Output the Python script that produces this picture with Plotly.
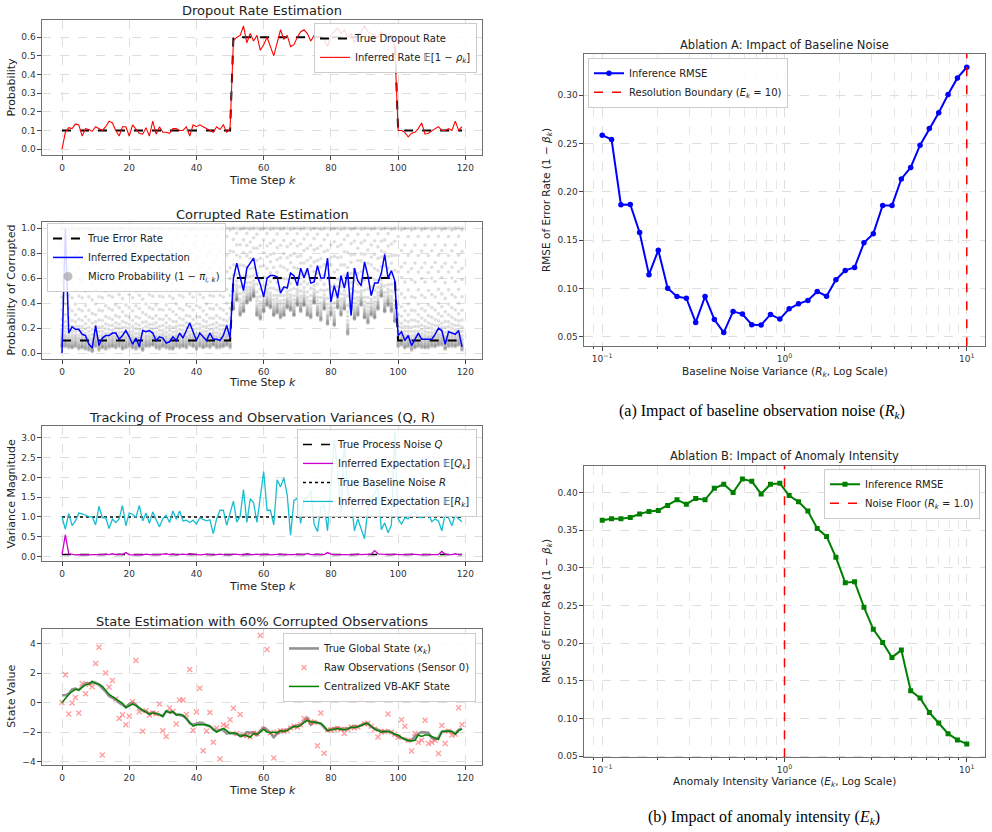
import plotly.graph_objects as go

W, H = 992, 832

# ---------------- data ----------------
k_steps = list(range(120))

dropout_true = [0.1] * 51 + [0.6] * 49 + [0.1] * 20
dropout_inferred = [
    0.0, 0.09, 0.115, 0.11, 0.135, 0.13, 0.07, 0.11, 0.105, 0.095,
    0.12, 0.11, 0.10, 0.12, 0.15, 0.14, 0.10, 0.07, 0.12, 0.12,
    0.07, 0.13, 0.11, 0.085, 0.08, 0.115, 0.07, 0.15, 0.08, 0.12,
    0.09, 0.09, 0.085, 0.11, 0.11, 0.10, 0.10, 0.12, 0.07, 0.13,
    0.12, 0.13, 0.12, 0.11, 0.10, 0.09, 0.12, 0.105, 0.13, 0.09,
    0.11, 0.58, 0.60, 0.61, 0.66, 0.57, 0.62, 0.58, 0.61, 0.53,
    0.56, 0.60, 0.55, 0.50, 0.57, 0.64, 0.59, 0.61, 0.55, 0.56,
    0.60, 0.63, 0.64, 0.62, 0.58, 0.61, 0.60, 0.60, 0.59, 0.55,
    0.61, 0.63, 0.65, 0.62, 0.64, 0.60, 0.62, 0.57, 0.61, 0.63,
    0.66, 0.63, 0.62, 0.61, 0.60, 0.63, 0.61, 0.60, 0.61, 0.55,
    0.10, 0.10, 0.09, 0.065, 0.085, 0.09, 0.11, 0.14, 0.08, 0.085,
    0.10, 0.11, 0.12, 0.10, 0.10, 0.11, 0.10, 0.15, 0.10, 0.12,
]

error_true = [0.1] * 51 + [0.6] * 49 + [0.1] * 20
error_inferred = [
    0.0, 1.0, 0.16, 0.21, 0.19, 0.19, 0.15, 0.14, 0.07, 0.04,
    0.22, 0.06, 0.12, 0.14, 0.14, 0.16, 0.16, 0.11, 0.14, 0.18,
    0.13, 0.07, 0.12, 0.05, 0.18, 0.17, 0.18, 0.16, 0.10, 0.13,
    0.12, 0.08, 0.09, 0.13, 0.10, 0.16, 0.12, 0.18, 0.24, 0.17,
    0.10, 0.16, 0.13, 0.10, 0.16, 0.11, 0.11, 0.10, 0.14, 0.22,
    0.12, 0.60, 0.72, 0.61, 0.50, 0.68, 0.72, 0.76, 0.62, 0.55,
    0.45, 0.60, 0.62, 0.62, 0.61, 0.48, 0.53, 0.52, 0.64, 0.62,
    0.54, 0.68, 0.60, 0.68, 0.56, 0.57, 0.70, 0.60, 0.60, 0.76,
    0.41, 0.54, 0.44, 0.62, 0.52, 0.65, 0.30, 0.68, 0.58, 0.54,
    0.73, 0.62, 0.46, 0.56, 0.56, 0.64, 0.79, 0.60, 0.66, 0.58,
    0.14, 0.17, 0.10, 0.14, 0.06, 0.11, 0.16, 0.11, 0.11, 0.11,
    0.11, 0.15, 0.20, 0.18, 0.07, 0.17, 0.16, 0.15, 0.18, 0.05,
]
# lowest value of each column of micro (per-sensor) probabilities
micro_floor = [
    0.05, 0.05, 0.04, 0.04, 0.05, 0.03, 0.04, 0.03, 0.02, 0.01,
    0.05, 0.02, 0.04, 0.03, 0.04, 0.05, 0.04, 0.05, 0.03, 0.04,
    0.05, 0.04, 0.03, 0.04, 0.02, 0.05, 0.05, 0.06, 0.04, 0.03,
    0.05, 0.04, 0.03, 0.03, 0.05, 0.04, 0.05, 0.04, 0.06, 0.05,
    0.03, 0.05, 0.04, 0.05, 0.04, 0.06, 0.04, 0.04, 0.05, 0.06,
    0.04, 0.35, 0.42, 0.30, 0.33, 0.40, 0.42, 0.45, 0.30, 0.27,
    0.33, 0.38, 0.36, 0.30, 0.32, 0.28, 0.30, 0.36, 0.34, 0.30,
    0.38, 0.33, 0.38, 0.30, 0.28, 0.40, 0.30, 0.26, 0.35, 0.23,
    0.30, 0.22, 0.36, 0.30, 0.35, 0.15, 0.35, 0.27, 0.30, 0.38,
    0.28, 0.24, 0.30, 0.28, 0.35, 0.45, 0.33, 0.38, 0.33, 0.25,
    0.05, 0.06, 0.04, 0.05, 0.02, 0.04, 0.05, 0.04, 0.04, 0.04,
    0.05, 0.05, 0.06, 0.06, 0.03, 0.05, 0.05, 0.05, 0.06, 0.02,
]
# relative positions of sensor probabilities between column floor and 1.0
micro_levels_a = [0, 0.005, 0.01, 0.015, 0.02, 0.03, 0.04, 0.05, 0.06, 0.075, 0.09,
                  0.11, 0.14, 0.18, 0.23, 0.31, 0.42, 0.55, 0.71, 0.86, 0.995, 1.0]
micro_levels_b = [0, 0.004, 0.012, 0.02, 0.025, 0.035, 0.045, 0.055, 0.07, 0.085, 0.10,
                  0.13, 0.17, 0.21, 0.27, 0.36, 0.48, 0.63, 0.77, 0.93, 1.0]
micro_levels_c = [0, 0.008, 0.015, 0.022, 0.03, 0.038, 0.05, 0.062, 0.08, 0.095, 0.12,
                  0.155, 0.19, 0.25, 0.33, 0.44, 0.58, 0.67, 0.81, 0.985, 1.0]

q_true = [0.05] * 120
q_inferred = [
    0.05, 0.55, 0.07, 0.05, 0.04, 0.05, 0.04, 0.05, 0.04, 0.05,
    0.05, 0.04, 0.05, 0.06, 0.05, 0.07, 0.05, 0.06, 0.05, 0.10,
    0.05, 0.04, 0.05, 0.05, 0.04, 0.06, 0.05, 0.05, 0.04, 0.05,
    0.06, 0.07, 0.05, 0.06, 0.04, 0.05, 0.06, 0.05, 0.07, 0.06,
    0.05, 0.04, 0.05, 0.06, 0.05, 0.04, 0.05, 0.06, 0.05, 0.05,
    0.04, 0.06, 0.05, 0.05, 0.04, 0.07, 0.05, 0.05, 0.06, 0.05,
    0.05, 0.06, 0.04, 0.05, 0.05, 0.06, 0.05, 0.05, 0.04, 0.05,
    0.06, 0.05, 0.05, 0.08, 0.05, 0.05, 0.06, 0.05, 0.05, 0.10,
    0.06, 0.05, 0.05, 0.06, 0.05, 0.05, 0.04, 0.05, 0.06, 0.05,
    0.05, 0.05, 0.06, 0.15, 0.07, 0.06, 0.05, 0.05, 0.05, 0.06,
    0.05, 0.05, 0.04, 0.05, 0.06, 0.05, 0.05, 0.04, 0.05, 0.05,
    0.05, 0.06, 0.05, 0.13, 0.06, 0.05, 0.05, 0.07, 0.05, 0.05,
]
r_true = [1.0] * 120
r_inferred = [
    1.00, 0.69, 1.09, 0.78, 0.90, 1.10, 1.08, 1.05, 1.00, 1.00,
    0.80, 1.27, 0.98, 0.98, 0.71, 0.95, 0.86, 0.95, 1.29, 0.78,
    1.10, 1.07, 0.99, 1.29, 0.90, 1.10, 0.84, 1.13, 0.93, 0.75,
    0.96, 1.04, 0.86, 1.15, 0.94, 1.15, 0.90, 0.92, 0.86, 0.92,
    0.82, 0.98, 0.94, 0.90, 0.93, 0.58, 0.95, 1.17, 1.17, 0.79,
    1.10, 1.40, 0.87, 1.02, 1.69, 0.86, 1.46, 1.36, 0.86, 1.50,
    2.15, 1.17, 1.17, 0.80, 1.94, 1.76, 1.99, 1.55, 0.54, 1.42,
    1.47, 0.84, 1.45, 1.50, 1.67, 0.82, 0.63, 1.24, 1.30, 0.65,
    1.90, 2.95, 2.20, 1.10, 2.90, 1.60, 1.45, 0.65, 0.95, 0.70,
    0.45, 1.20, 1.45, 1.60, 1.75, 0.68, 0.85, 0.60, 0.80, 3.15,
    0.95, 0.82, 0.98, 0.95, 1.10, 1.12, 1.00, 0.98, 1.05, 1.10,
    0.88, 0.95, 0.90, 0.65, 1.08, 0.98, 0.78, 1.05, 0.95, 0.88,
]

state_true = [
    0.50, 0.50, 0.60, 0.90, 0.95, 0.85, 1.10, 1.30, 1.30, 1.35,
    1.35, 1.20, 1.00, 0.75, 0.45, 0.35, 0.20, 0.00, -0.15, -0.30,
    -0.10, 0.00, -0.15, -0.40, -0.55, -0.60, -0.75, -0.65, -0.75, -0.85,
    -0.90, -0.60, -0.65, -0.65, -0.80, -0.85, -0.90, -1.05, -1.40, -1.50,
    -1.40, -1.35, -1.40, -1.55, -1.60, -1.80, -1.95, -1.85, -1.85, -2.10,
    -2.05, -2.10, -2.15, -2.20, -2.25, -2.00, -2.05, -2.00, -2.20, -1.90,
    -1.70, -1.85, -2.05, -2.35, -2.10, -1.95, -1.90, -1.85, -1.70, -1.60,
    -1.55, -1.50, -1.25, -1.05, -1.50, -1.30, -1.35, -1.45, -1.70, -1.90,
    -1.80, -1.75, -1.70, -1.80, -1.80, -1.75, -1.70, -1.60, -1.65, -1.50,
    -1.40, -1.45, -1.65, -1.75, -1.85, -1.90, -2.00, -1.90, -2.05, -2.20,
    -2.30, -2.40, -2.45, -2.60, -2.55, -2.30, -2.10, -2.00, -2.00, -2.05,
    -2.40, -2.50, -2.35, -2.00, -1.95, -1.90, -2.00, -2.10, -1.85, -1.75,
]
raw_obs = [
    0.00, 1.88, -0.78, -0.03, 0.35, -0.70, 1.30, 0.60, 1.25, 1.08,
    2.65, 3.75, -3.55, 2.00, 1.05, 1.50, 0.25, -1.07, -0.82, -1.50,
    -0.92, 0.05, 2.85, -0.62, -1.95, -0.55, -0.85, -0.70, -0.75, -0.10,
    -1.90, -2.30, -0.37, -0.60, -1.45, 0.17, 0.17, -0.80, 2.25, -1.87,
    -0.63, 0.97, -3.27, -1.93, -0.67, -2.68, -1.72, -3.82, -1.50, -1.60,
    -1.16, -0.38, -2.10, -0.80, -2.20, -2.25, -2.30, -2.10, -2.10, 4.55,
    -1.80, 3.60, -2.05, -3.75, -2.00, -1.90, -1.95, -1.90, -1.72, -1.60,
    -1.65, -1.50, -1.07, -1.20, -1.30, -1.35, -2.92, -0.70, -3.43, -1.85,
    -1.85, -1.80, -1.75, -1.80, -2.10, -1.80, -1.65, -1.70, -1.65, 0.23,
    -1.45, -1.40, -1.60, -1.80, -2.33, -2.00, -1.95, -0.78, -2.00, -2.15,
    -2.35, -1.16, -1.60, -2.55, -3.28, -2.10, -2.68, -2.55, -1.20, -2.77,
    -2.68, -2.55, -3.45, -1.55, -2.77, -1.95, -2.20, -2.15, -0.35, -1.48,
]
state_vbakf = [
    0.00, 0.30, 0.55, 0.75, 0.90, 0.85, 1.00, 1.20, 1.25, 1.45,
    1.30, 1.25, 1.10, 0.80, 0.55, 0.40, 0.25, 0.10, -0.05, -0.35,
    -0.25, -0.10, -0.20, -0.35, -0.50, -0.60, -0.80, -0.70, -0.75, -0.80,
    -0.95, -0.55, -0.70, -0.60, -0.85, -0.80, -0.85, -1.10, -1.35, -1.60,
    -1.50, -1.50, -1.45, -1.50, -1.60, -1.85, -2.00, -1.90, -1.75, -1.90,
    -2.10, -2.05, -2.10, -2.30, -2.20, -2.25, -2.35, -2.10, -2.15, -2.00,
    -1.80, -2.00, -2.05, -2.00, -2.05, -1.90, -1.95, -1.90, -1.75, -1.60,
    -1.65, -1.55, -1.35, -1.20, -1.30, -1.35, -1.40, -1.40, -1.60, -1.90,
    -1.85, -1.80, -1.75, -1.80, -1.85, -1.80, -1.65, -1.70, -1.65, -1.55,
    -1.45, -1.40, -1.60, -1.80, -1.90, -2.00, -1.95, -1.95, -2.00, -2.15,
    -2.20, -2.35, -2.50, -2.55, -2.60, -2.55, -2.20, -2.30, -2.20, -2.20,
    -2.30, -2.45, -2.50, -1.95, -1.95, -1.95, -1.95, -2.15, -1.90, -1.80,
]

ablation_x = [
    0.1, 0.11253, 0.12664, 0.14251, 0.16037, 0.18047, 0.20309, 0.22855, 0.25720, 0.28943,
    0.32571, 0.36653, 0.41246, 0.46416, 0.52233, 0.58780, 0.66147, 0.74438, 0.83768, 0.94267,
    1.06082, 1.19378, 1.34340, 1.51178, 1.70125, 1.91448, 2.15443, 2.42446, 2.72833, 3.07029,
    3.45511, 3.88816, 4.37548, 4.92388, 5.54102, 6.23551, 7.01704, 7.89652, 8.88624, 10.0,
]
rmse_baseline = [
    0.2586, 0.2541, 0.1866, 0.1870, 0.1580, 0.1144, 0.1397, 0.1003, 0.0918, 0.0900,
    0.0650, 0.0918, 0.0680, 0.0545, 0.0764, 0.0737, 0.0627, 0.0623, 0.0733, 0.0685,
    0.0791, 0.0842, 0.0877, 0.0969, 0.0921, 0.1092, 0.1188, 0.1219, 0.1473, 0.1568,
    0.1860, 0.1860, 0.2134, 0.2253, 0.2483, 0.2654, 0.2818, 0.3007, 0.3178, 0.3288,
]
rmse_anomaly = [
    0.3632, 0.3653, 0.3653, 0.3670, 0.3715, 0.3750, 0.3763, 0.3829, 0.3904, 0.3846,
    0.3921, 0.3904, 0.4057, 0.4110, 0.4000, 0.4180, 0.4149, 0.3982, 0.4110, 0.4123,
    0.3960, 0.3877, 0.3754, 0.3522, 0.3417, 0.3140, 0.2803, 0.2816, 0.2478, 0.2184,
    0.2010, 0.1811, 0.1908, 0.1368, 0.1272, 0.1079, 0.0939, 0.0798, 0.0715, 0.0662,
]
boundary_a = 10.0
boundary_b = 1.0

# axis ranges / ticks
k_range = [-5.95, 124.95]
range_p1 = [-0.033, 0.693]
range_p2 = [-0.05, 1.05]
range_p3 = [-0.12, 3.3]
range_p4 = [-4.25, 4.99]
range_a = [0.0403, 0.3428]
range_b = [0.0484, 0.4356]
log_range = [-1.1, 1.1]
log_major = [0.1, 1, 10]
log_major_text = ["10<sup>\u22121</sup>", "10<sup>0</sup>", "10<sup>1</sup>"]
log_minor = [0.09, 0.2, 0.3, 0.4, 0.5, 0.6, 0.7, 0.8, 0.9, 2, 3, 4, 5, 6, 7, 8, 9]

# ---------------- figure ----------------
FONT = "DejaVu Sans"
fig = go.Figure()


def xa(n):
    return "x" if n == 1 else f"x{n}"


def ya(n):
    return "y" if n == 1 else f"y{n}"


def lg(n):
    return "legend" if n == 1 else f"legend{n}"


# Panel 1
fig.add_trace(go.Scatter(x=k_steps, y=dropout_true, mode="lines", name="True Dropout Rate",
                         line=dict(color="black", width=2, dash="dash"),
                         xaxis=xa(1), yaxis=ya(1), legend=lg(1)))
fig.add_trace(go.Scatter(x=k_steps, y=dropout_inferred, mode="lines",
                         name="Inferred Rate \U0001D53C[1 \u2212 <i>\u03c1</i><sub><i>k</i></sub>]",
                         line=dict(color="red", width=1.1),
                         xaxis=xa(1), yaxis=ya(1), legend=lg(1)))

# Panel 2
mx, my = [], []
templates = [micro_levels_a, micro_levels_b, micro_levels_c]
for k, fl in zip(k_steps, micro_floor):
    for f in templates[k % 3]:
        mx.append(k)
        my.append(fl + f * (1.0 - fl))
fig.add_trace(go.Scatter(x=mx, y=my, mode="markers", showlegend=False,
                         marker=dict(color="rgba(105,105,105,0.21)", size=3.6, line=dict(width=0)),
                         xaxis=xa(2), yaxis=ya(2), legend=lg(2)))
fig.add_trace(go.Scatter(x=k_steps, y=error_true, mode="lines", name="True Error Rate",
                         line=dict(color="black", width=2, dash="dash"),
                         xaxis=xa(2), yaxis=ya(2), legend=lg(2), legendrank=1))
fig.add_trace(go.Scatter(x=k_steps, y=error_inferred, mode="lines", name="Inferred Expectation",
                         line=dict(color="blue", width=1.5),
                         xaxis=xa(2), yaxis=ya(2), legend=lg(2), legendrank=2))
# legend swatch for the micro-probability cloud
fig.add_trace(go.Scatter(x=[None], y=[None], mode="markers",
                         name="Micro Probability (1 \u2212 <i>\u03c0</i><sub><i>i, k</i></sub>)",
                         marker=dict(color="rgba(150,150,150,0.6)", size=9),
                         xaxis=xa(2), yaxis=ya(2), legend=lg(2), legendrank=3))

# Panel 3
fig.add_trace(go.Scatter(x=k_steps, y=q_true, mode="lines", name="True Process Noise <i>Q</i>",
                         line=dict(color="black", width=1.6, dash="dash"),
                         xaxis=xa(3), yaxis=ya(3), legend=lg(3)))
fig.add_trace(go.Scatter(x=k_steps, y=q_inferred, mode="lines",
                         name="Inferred Expectation \U0001D53C[<i>Q</i><sub><i>k</i></sub>]",
                         line=dict(color="#cc00cc", width=1.3),
                         xaxis=xa(3), yaxis=ya(3), legend=lg(3)))
fig.add_trace(go.Scatter(x=k_steps, y=r_true, mode="lines", name="True Baseline Noise <i>R</i>",
                         line=dict(color="black", width=1.6, dash="dot"),
                         xaxis=xa(3), yaxis=ya(3), legend=lg(3)))
fig.add_trace(go.Scatter(x=k_steps, y=r_inferred, mode="lines",
                         name="Inferred Expectation \U0001D53C[<i>R</i><sub><i>k</i></sub>]",
                         line=dict(color="#17becf", width=1.3),
                         xaxis=xa(3), yaxis=ya(3), legend=lg(3)))

# Panel 4
fig.add_trace(go.Scatter(x=k_steps, y=state_true, mode="lines",
                         name="True Global State (<i>x</i><sub><i>k</i></sub>)",
                         line=dict(color="rgba(128,128,128,0.85)", width=2.6),
                         xaxis=xa(4), yaxis=ya(4), legend=lg(4)))
fig.add_trace(go.Scatter(x=k_steps, y=raw_obs, mode="markers", name="Raw Observations (Sensor 0)",
                         marker=dict(symbol="x-thin", size=5, color="rgba(255,80,80,0.55)",
                                     line=dict(width=1.4, color="rgba(255,80,80,0.55)")),
                         xaxis=xa(4), yaxis=ya(4), legend=lg(4)))
fig.add_trace(go.Scatter(x=k_steps, y=state_vbakf, mode="lines", name="Centralized VB-AKF State",
                         line=dict(color="green", width=1.5),
                         xaxis=xa(4), yaxis=ya(4), legend=lg(4)))

# Panel A
fig.add_trace(go.Scatter(x=ablation_x, y=rmse_baseline, mode="lines+markers", name="Inference RMSE",
                         line=dict(color="blue", width=2), marker=dict(symbol="circle", size=5.5, color="blue"),
                         xaxis=xa(5), yaxis=ya(5), legend=lg(5)))
fig.add_trace(go.Scatter(x=[boundary_a, boundary_a], y=range_a, mode="lines",
                         name="Resolution Boundary (<i>E</i><sub><i>k</i></sub> = 10)",
                         line=dict(color="red", width=1.5, dash="dash"),
                         xaxis=xa(5), yaxis=ya(5), legend=lg(5)))

# Panel B
fig.add_trace(go.Scatter(x=ablation_x, y=rmse_anomaly, mode="lines+markers", name="Inference RMSE",
                         line=dict(color="green", width=2), marker=dict(symbol="square", size=5, color="green"),
                         xaxis=xa(6), yaxis=ya(6), legend=lg(6)))
fig.add_trace(go.Scatter(x=[boundary_b, boundary_b], y=range_b, mode="lines",
                         name="Noise Floor (<i>R</i><sub><i>k</i></sub> = 1.0)",
                         line=dict(color="red", width=1.5, dash="dash"),
                         xaxis=xa(6), yaxis=ya(6), legend=lg(6)))

# ---------------- axes ----------------
LX = [42 / W, 482 / W]
RX = [584 / W, 985 / W]


def ydom(top, bottom):
    return [1 - bottom / H, 1 - top / H]


common = dict(showline=True, mirror=True, linecolor="#6f6f6f", linewidth=1.1,
              showgrid=True, gridcolor="#dedede", griddash="dash", gridwidth=0.8,
              ticks="outside", ticklen=3.5, tickcolor="#444", tickwidth=0.8,
              tickfont=dict(size=9, color="#333", family=FONT), zeroline=False)

layout = dict(width=W, height=H, margin=dict(l=0, r=0, t=0, b=0),
              paper_bgcolor="white", plot_bgcolor="white",
              font=dict(family=FONT, color="#222"), showlegend=True)

left_doms = [ydom(20, 156), ydom(223, 361), ydom(428, 564), ydom(632, 769)]
left_ranges = [range_p1, range_p2, range_p3, range_p4]
left_dticks = [0.1, 0.2, 0.5, 2]
left_fmt = [".1f", ".1f", ".1f", "d"]
for i in range(4):
    n = i + 1
    xs = "xaxis" if n == 1 else f"xaxis{n}"
    ys = "yaxis" if n == 1 else f"yaxis{n}"
    layout[xs] = dict(common, domain=LX, anchor=ya(n), range=k_range, tick0=0, dtick=20)
    layout[ys] = dict(common, domain=left_doms[i], anchor=xa(n), range=left_ranges[i],
                      tick0=0, dtick=left_dticks[i], tickformat=left_fmt[i])

right_doms = [ydom(54, 348), ydom(468, 761)]
right_ranges = [range_a, range_b]
for i in range(2):
    n = i + 5
    layout[f"xaxis{n}"] = dict(common, domain=RX, anchor=ya(n), type="log", range=log_range,
                               tickmode="array", tickvals=log_major, ticktext=log_major_text,
                               minor=dict(tickmode="array", tickvals=log_minor, showgrid=True,
                                          gridcolor="#e6e6e6", griddash="dash", gridwidth=0.8,
                                          ticks="outside", ticklen=2, tickcolor="#444"))
    layout[f"yaxis{n}"] = dict(common, domain=right_doms[i], anchor=xa(n), range=right_ranges[i],
                               tick0=0, dtick=0.05, tickformat=".2f")

# ---------------- legends ----------------
leg_common = dict(bgcolor="rgba(255,255,255,0.85)", bordercolor="#cccccc", borderwidth=1,
                  font=dict(size=10, family=FONT, color="#222"), tracegroupgap=0)
layout["legend"] = dict(leg_common, x=477 / W, y=1 - 23 / H, xanchor="right", yanchor="top")
layout["legend2"] = dict(leg_common, x=47 / W, y=1 - 224 / H, xanchor="left", yanchor="top",
                         traceorder="normal")
layout["legend3"] = dict(leg_common, x=477 / W, y=1 - 431 / H, xanchor="right", yanchor="top")
layout["legend4"] = dict(leg_common, x=476 / W, y=1 - 636 / H, xanchor="right", yanchor="top")
layout["legend5"] = dict(leg_common, x=588 / W, y=1 - 58 / H, xanchor="left", yanchor="top")
layout["legend6"] = dict(leg_common, x=980 / W, y=1 - 471 / H, xanchor="right", yanchor="top")

fig.update_layout(**layout)

# ---------------- text annotations ----------------
anns = []


def txt(text, x, y, size, angle=0, family=FONT, color="#222"):
    anns.append(dict(text=text, x=x / W, y=1 - y / H, xref="paper", yref="paper",
                     showarrow=False, textangle=angle, xanchor="center", yanchor="middle",
                     font=dict(size=size, family=family, color=color)))


LC = 262
txt("Dropout Rate Estimation", LC, 11, 13)
txt("Corrupted Rate Estimation", LC, 216, 13)
txt("Tracking of Process and Observation Variances (Q, R)", LC, 420, 13)
txt("State Estimation with 60% Corrupted Observations", LC, 625, 13)
for yy in (181, 384, 589, 794):
    txt("Time Step <i>k</i>", LC, yy, 11)
txt("Probability", 12, 88, 11, -90)
txt("Probability of Corrupted", 12, 292, 11, -90)
txt("Variance Magnitude", 12, 496, 11, -90)
txt("State Value", 12, 700, 11, -90)

RC = 784.5
txt("Ablation A: Impact of Baseline Noise", RC, 45, 11.5)
txt("Ablation B: Impact of Anomaly Intensity", RC, 458, 11.5)
txt("Baseline Noise Variance (<i>R</i><sub><i>k</i></sub>, Log Scale)", RC, 374, 10.5)
txt("Anomaly Intensity Variance (<i>E</i><sub><i>k</i></sub>, Log Scale)", RC, 786, 10.5)
txt("RMSE of Error Rate (1 \u2212 <i>\u03b2</i><sub><i>k</i></sub>)", 547, 201, 10.5, -90)
txt("RMSE of Error Rate (1 \u2212 <i>\u03b2</i><sub><i>k</i></sub>)", 547, 614, 10.5, -90)
txt("(a) Impact of baseline observation noise (<i>R<sub>k</sub></i>)", 762, 413, 16,
    family="Liberation Serif", color="black")
txt("(b) Impact of anomaly intensity (<i>E<sub>k</sub></i>)", 764, 821, 16,
    family="Liberation Serif", color="black")

fig.update_layout(annotations=anns)

fig.write_html("out.html")
